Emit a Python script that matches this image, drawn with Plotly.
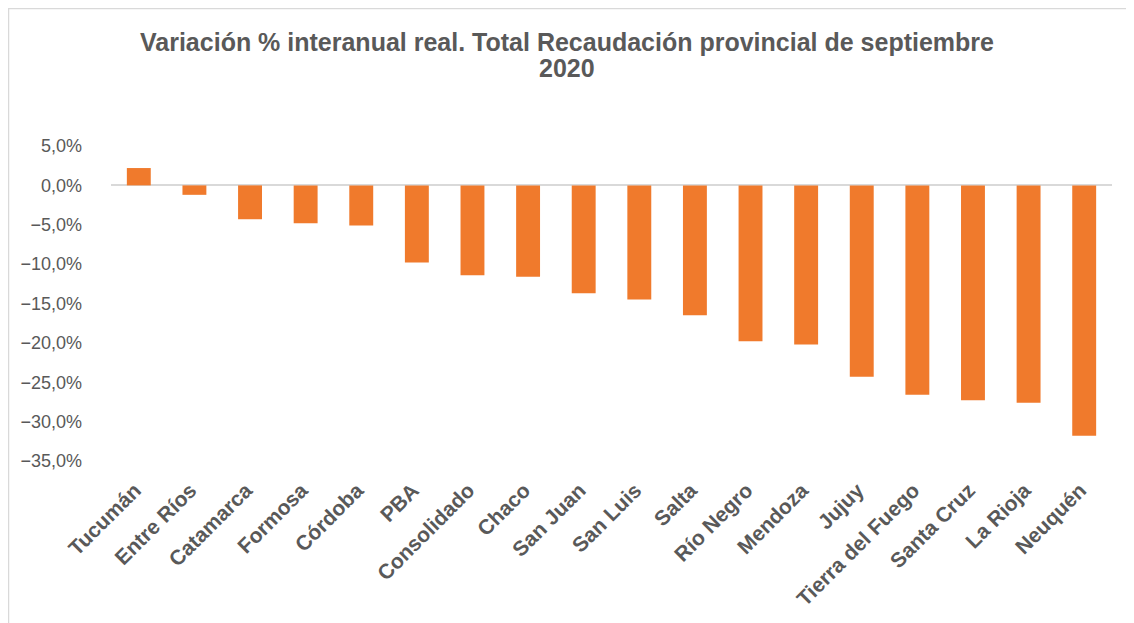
import plotly.graph_objects as go

provincias = ["Tucumán", "Entre Ríos", "Catamarca", "Formosa", "Córdoba", "PBA",
              "Consolidado", "Chaco", "San Juan", "San Luis", "Salta", "Río Negro",
              "Mendoza", "Jujuy", "Tierra del Fuego", "Santa Cruz", "La Rioja", "Neuquén"]
variacion = [2.2, -1.2, -4.3, -4.8, -5.1, -9.8, -11.4, -11.6, -13.7, -14.5, -16.5,
             -19.8, -20.2, -24.3, -26.6, -27.3, -27.6, -31.8]

titulo_1 = "Variación % interanual real. Total Recaudación provincial de septiembre"
titulo_2 = "2020"

# page has an 8px body margin, so the figure is sized to fit the 1134x623 window
W, H = 1126, 615
L, R, T, B = 103, 22, 138, 162
pw = W - L - R
ph = H - T - B

fig = go.Figure()
fig.add_trace(go.Bar(
    x=provincias, y=variacion,
    marker=dict(color="#F07A2C", line=dict(width=0)),
    hoverinfo="x+y",
))

title_font = dict(family="Liberation Sans, Arial", size=25, color="#595959", weight="bold")

fig.update_layout(
    width=W, height=H,
    margin=dict(l=L, r=R, t=T, b=B),
    paper_bgcolor="white", plot_bgcolor="white",
    separators=",.",
    bargap=0.57,
    showlegend=False,
    title=dict(text=titulo_1, x=559 / W, xref="container", xanchor="center",
               y=1 - 34 / H, yanchor="middle", font=title_font),
    annotations=[dict(text=titulo_2, xref="paper", yref="paper",
                      x=(559 - L) / pw, y=(H - B - 60) / ph,
                      xanchor="center", yanchor="middle", showarrow=False,
                      font=title_font)],
    font=dict(family="Liberation Sans, Arial", color="#595959"),
    xaxis=dict(showgrid=False, showline=False, tickangle=-45, ticks="",
               ticklabelstandoff=12, ticklabelshift=-4,
               tickfont=dict(size=21, color="#595959", weight="bold")),
    yaxis=dict(range=[-35, 5], dtick=5, tick0=0, showgrid=False, showline=False,
               zeroline=True, zerolinecolor="#D9D9D9", zerolinewidth=2,
               tickformat=".1f", ticksuffix="%", ticks="", ticklabelstandoff=28,
               tickfont=dict(size=18, color="#595959")),
    shapes=[dict(type="rect", xref="paper", yref="paper",
                 x0=(0.5 - L) / pw, x1=(W + 5 - L) / pw,
                 y0=(H - B - (H + 5)) / ph, y1=(H - B - 0.5) / ph,
                 line=dict(color="#D9D9D9", width=1.5), fillcolor="rgba(0,0,0,0)",
                 layer="below")],
)

fig.write_html("out.html")
